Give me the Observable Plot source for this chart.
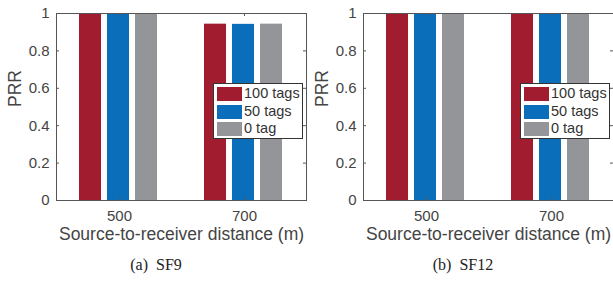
<!DOCTYPE html>
<html>
<head>
<meta charset="utf-8">
<script src="https://cdn.jsdelivr.net/npm/d3@7"></script>
<script src="https://cdn.jsdelivr.net/npm/@observablehq/plot@0.6"></script>
<style>
  html, body { margin: 0; padding: 0; background: #fff; }
  #root { position: relative; width: 613px; height: 283px; overflow: hidden; }
  .panel { position: absolute; top: 0; width: 308px; height: 283px; }
  .panel svg { position: absolute; left: 0; top: 0; }
  .legend { position: absolute; left: 213px; top: 83px; width: 88px; height: 54px;
    border: 1px solid #333; background: #fff; font-family: "Liberation Sans", Arial, sans-serif;
    font-size: 14.5px; color: #333; }
  .legend .row { position: absolute; left: 3px; height: 14px; }
  .legend .sw { position: absolute; left: 0; top: 0; width: 25px; height: 14px; }
  .legend .lb { position: absolute; left: 27px; top: -2px; white-space: nowrap; line-height: 17px; }
  .caption { position: absolute; left: 0; width: 312px; top: 255px; text-align: center;
    font-family: "Liberation Serif", "DejaVu Serif", serif; font-size: 16px; color: #222; line-height: 20px; }
</style>
</head>
<body>
<div id="root"></div>
<script>
// ---- data ----
const distances = [500, 700];
const series = ["100 tags", "50 tags", "0 tag"];
const colors = ["#A21C30", "#0A6EBA", "#939598"];
const sf9_100 = [1, 0.943];
const sf9_50 = [1, 0.942];
const sf9_0 = [1, 0.943];
const sf12_100 = [1, 1];
const sf12_50 = [1, 1];
const sf12_0 = [1, 1];
const yTicks = [0, 0.2, 0.4, 0.6, 0.8, 1];
const yLabel = "PRR";
const xLabel = "Source-to-receiver distance (m)";
const captions = ["(a)\u00a0\u00a0SF9", "(b)\u00a0\u00a0SF12"];

function table(vals) {
  const rows = [];
  distances.forEach((d, i) => series.forEach((s, j) => rows.push({distance: d, series: s, value: vals[j][i]})));
  return rows;
}
const panels = [table([sf9_100, sf9_50, sf9_0]), table([sf12_100, sf12_50, sf12_0])];

const W = 308, H = 250, ML = 56, MR = 2, MT = 13, MB = 50;
const font = `"Liberation Sans", Arial, sans-serif`;
const textColor = "#444";
const axisColor = "#555";

const root = document.getElementById("root");
panels.forEach((data, k) => {
  const panel = document.createElement("div");
  panel.className = "panel";
  panel.style.left = (k * 307) + "px";
  root.appendChild(panel);

  const bars = Plot.plot({
    width: W, height: H, marginLeft: ML, marginRight: MR, marginTop: MT, marginBottom: MB,
    style: {background: "transparent", fontFamily: font},
    facet: {data, x: "distance", marginTop: 0, marginBottom: 0, marginLeft: 0, marginRight: 0},
    fx: {domain: distances, padding: 0, axis: null, label: null},
    x: {domain: series, paddingInner: 0.214, paddingOuter: 0.839, axis: null},
    y: {domain: [0, 1], axis: null},
    color: {domain: series, range: colors},
    marks: [
      Plot.barY(data, {x: "series", y: "value", fill: "series"})
    ]
  });
  panel.appendChild(bars);

  const axes = Plot.plot({
    width: W, height: H, marginLeft: ML, marginRight: MR, marginTop: MT, marginBottom: MB,
    style: {background: "transparent", fontFamily: font, fontSize: "15px", color: textColor},
    x: {type: "point", domain: distances, padding: 0.5, tickSize: 0, tickPadding: 10, label: null},
    y: {domain: [0, 1], ticks: yTicks, tickFormat: d => String(d), tickSize: 0, tickPadding: 7, label: null},
    marks: [
      Plot.ruleY(yTicks, {y: d => d, insetRight: 247, stroke: axisColor}),
      Plot.ruleY(yTicks, {y: d => d, insetLeft: 247, stroke: axisColor}),
      Plot.ruleX(distances, {x: d => d, insetBottom: 184, stroke: axisColor}),
      Plot.ruleX(distances, {x: d => d, insetTop: 184, stroke: axisColor}),
      Plot.frame({stroke: axisColor}),
      Plot.text([xLabel], {frameAnchor: "bottom", dy: 39, fontSize: 17.5, fill: textColor}),
      Plot.text([yLabel], {frameAnchor: "left", rotate: -90, dx: -41, fontSize: 17.5, fill: textColor})
    ]
  });
  panel.appendChild(axes);

  const legend = document.createElement("div");
  legend.className = "legend";
  series.forEach((s, j) => {
    const row = document.createElement("div");
    row.className = "row";
    row.style.top = (3 + j * 17.5) + "px";
    row.innerHTML = `<div class="sw" style="background:${colors[j]}"></div><div class="lb">${s}</div>`;
    legend.appendChild(row);
  });
  panel.appendChild(legend);

  const cap = document.createElement("div");
  cap.className = "caption";
  cap.textContent = captions[k];
  panel.appendChild(cap);
});
</script>
</body>
</html>
